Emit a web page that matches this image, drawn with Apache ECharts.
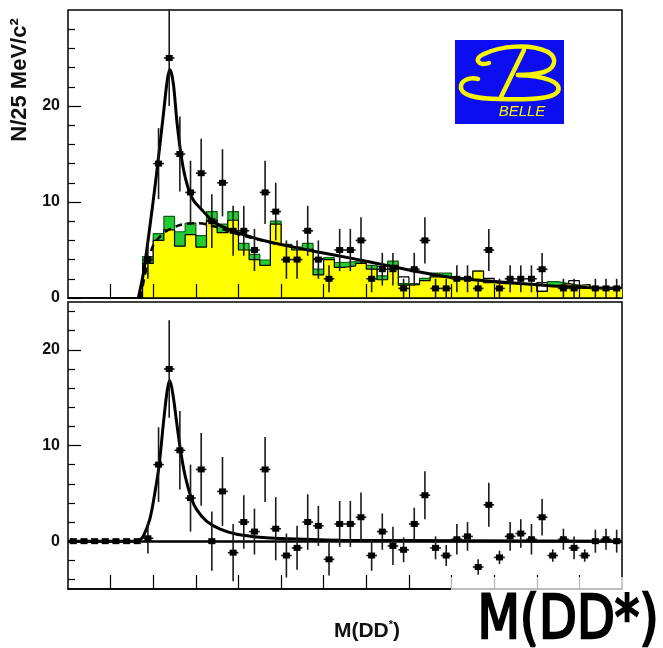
<!DOCTYPE html>
<html>
<head>
<meta charset="utf-8">
<title>M(DD*)</title>
<script src="https://cdn.jsdelivr.net/npm/echarts@6/dist/echarts.min.js"></script>
<style>
html, body { margin: 0; padding: 0; background: #fff; }
#main { width: 663px; height: 648px; }
</style>
</head>
<body>
<div id="main"></div>
<script>
// M(DD*) bin centres in GeV (25 MeV bins, 3.7 - 5.0)
var binCenters = [3.7125, 3.7375, 3.7625, 3.7875, 3.8125, 3.8375, 3.8625, 3.8875, 3.9125, 3.9375,
    3.9625, 3.9875, 4.0125, 4.0375, 4.0625, 4.0875, 4.1125, 4.1375, 4.1625, 4.1875,
    4.2125, 4.2375, 4.2625, 4.2875, 4.3125, 4.3375, 4.3625, 4.3875, 4.4125, 4.4375,
    4.4625, 4.4875, 4.5125, 4.5375, 4.5625, 4.5875, 4.6125, 4.6375, 4.6625, 4.6875,
    4.7125, 4.7375, 4.7625, 4.7875, 4.8125, 4.8375, 4.8625, 4.8875, 4.9125, 4.9375,
    4.9625, 4.9875];
var halfBin = 0.0125;
var massTicks = [3.8, 3.9, 4.0, 4.1, 4.2, 4.3, 4.4, 4.5, 4.6, 4.7, 4.8, 4.9];
var countLabels = [0, 10, 20];
var topMinorTicks = [2, 4, 6, 8, 12, 14, 16, 18, 22, 24, 26, 28];
var bottomMinorTicks = [-4, -2, 2, 4, 6, 8, 12, 14, 16, 18, 22, 24];

// upper plot: data points
var topCounts = [null, null, null, null, null, null, null,
    4, 14, 25, 15, 11, 13, 8, 12, 7, 7, 5, 11, 9, 4, 4, 7, 4, 2, 5, 5, 6, 2, 3, 3,
    1, 3, 6, 1, 1, 2, 2, 1, 5, 1, 2, 2, 2, 3, null, 1, 1, null, 1, 1, 1];
var topErrors = [null, null, null, null, null, null, null,
    2.0, 3.7, 5.0, 3.9, 3.3, 3.6, 2.8, 3.5, 2.6, 2.6, 2.2, 3.3, 3.0, 2.0, 2.0, 2.6, 2.0, 1.4, 2.2, 2.2, 2.4, 1.4, 1.7, 1.7,
    1.0, 1.7, 2.4, 1.0, 1.0, 1.4, 1.4, 1.0, 2.2, 1.0, 1.4, 1.4, 1.4, 1.7, null, 1.0, 1.0, null, 1.0, 1.0, 1.0];

// upper plot: histograms
var yellowHist = [0, 0, 0, 0, 0, 0, 0,
    3.6, 6.0, 7.1, 5.4, 6.6, 5.3, 8.1, 6.8, 8.1, 5.0, 4.0, 3.4, 7.7, 5.5, 5.0, 5.1, 2.4, 4.0, 3.2, 3.35, 3.6, 3.0, 1.9, 3.4,
    1.35, 1.4, 1.8, 2.2, 2.2, 2.05, 2.05, 2.8, 1.6, 1.5, 1.5, 1.5, 1.5, 0.7, 1.3, 1.5, 1.3, 1.4, 1.0, 1.1, 1.1];
var greenHist = [0, 0, 0, 0, 0, 0, 0,
    4.3, 6.7, 8.5, 6.9, 7.8, 6.5, 9.0, 7.7, 9.0, 5.7, 4.55, 3.96, 8.0, 5.6, 5.3, 5.7, 3.0, 4.2, 3.7, 3.8, 3.7, 3.4, 2.3, 3.85,
    1.5, 1.5, 2.05, 2.6, 2.6, 2.1, 2.1, 2.8, 1.6, 1.5, 1.5, 1.5, 1.5, 0.7, 1.7, 1.5, 1.3, 1.4, 1.0, 1.1, 1.1];
var outlineHist = [0, 0, 0, 0, 0, 0, 0,
    0, 0, 0, 0, 0, 0, 0, 0, 0, 0, 0, 0, 0, 0, 0, 0, 4.1, 0, 0, 0, 0, 0, 3.3, 0,
    2.2, 0, 0, 0, 0, 0, 0, 0, 2.05, 0, 0, 0, 0, 1.6, 0, 0, 1.8, 0, 0, 0, 0];

// upper plot: fit curves [mass, N]
var fitTotal = [[3.865, 0], [3.877, 2.6], [3.892, 7.4], [3.908, 13.0], [3.924, 19.2], [3.933, 22.7],
    [3.939, 23.8], [3.947, 22.4], [3.956, 18.2], [3.967, 14.4], [3.979, 11.9], [3.994, 10.2],
    [4.014, 9.2], [4.041, 7.95], [4.080, 7.1], [4.119, 6.5], [4.158, 6.0], [4.197, 5.6],
    [4.28, 4.85], [4.369, 4.1], [4.448, 3.4], [4.526, 2.7], [4.603, 2.1], [4.683, 1.8],
    [4.761, 1.5], [4.838, 1.25], [4.917, 1.1], [4.995, 0.97]];
var fitBackground = [[3.870, 0], [3.885, 3.3], [3.900, 5.5], [3.916, 6.4], [3.932, 7.0], [3.963, 7.6],
    [4.002, 7.8], [4.033, 7.6], [4.080, 6.9], [4.119, 6.4], [4.158, 5.95], [4.197, 5.55]];

// lower plot: background subtracted
var subCounts = [0, 0, 0, 0, 0, 0, 0,
    0.3, 8.0, 18.0, 9.5, 4.5, 7.5, 0.0, 5.2, -1.2, 2.0, 1.0, 7.5, 1.3, -1.5, -0.7, 2.0, 1.6, -1.9, 1.8, 1.8, 2.5, -1.5, 1.0, -0.5,
    -0.9, 1.8, 4.8, -0.7, -1.5, 0.2, 0.5, -2.7, 3.8, -1.7, 0.5, 0.8, 0.2, 2.5, -1.5, 0.2, -0.7, -1.5, 0.0, 0.2, 0.0];
var subErrors = [0, 0, 0, 0, 0, 0, 0,
    1.6, 3.9, 5.1, 4.1, 3.5, 3.8, 3.1, 3.6, 3.0, 2.8, 2.4, 3.4, 3.3, 2.3, 2.3, 2.9, 2.1, 1.7, 2.4, 2.4, 2.6, 1.6, 1.9, 2.0,
    1.3, 1.7, 2.5, 1.2, 1.1, 1.6, 1.5, 0.8, 2.3, 0.7, 1.5, 1.5, 1.6, 1.9, 0.65, 1.1, 1.2, 0.65, 1.2, 1.1, 1.2];
var fitSignal = [[3.70, 0], [3.86, 0], [3.868, 0.1], [3.877, 0.55], [3.892, 2.3], [3.904, 5.1], [3.914, 8.0],
    [3.924, 12.4], [3.933, 15.8], [3.939, 16.8], [3.947, 15.1], [3.955, 12.4], [3.964, 9.5],
    [3.975, 6.8], [3.989, 4.55], [4.002, 3.3], [4.025, 2.1], [4.057, 1.25], [4.096, 0.73],
    [4.158, 0.38], [4.197, 0.28], [4.338, 0.1], [5.0, 0.0]];

var font = '"Liberation Sans", Arial, sans-serif';

function stepData(vals) {
    var d = binCenters.map(function (c, i) { return [c - halfBin, vals[i]]; });
    d.push([binCenters[binCenters.length - 1] + halfBin, vals[vals.length - 1]]);
    return d;
}

function pointData(vals, errs) {
    var d = [];
    binCenters.forEach(function (c, i) {
        if (vals[i] !== null) d.push([c, vals[i], errs[i] || 0]);
    });
    return d;
}

function errorBars(ymin, ymax) {
    return function (params, api) {
        var x = api.value(0), v = api.value(1), e = api.value(2);
        var p = api.coord([x, v]);
        var lo = api.coord([x, Math.max(v - e, ymin)]);
        var hi = api.coord([x, Math.min(v + e, ymax)]);
        var l = api.coord([x - halfBin, v]);
        var r = api.coord([x + halfBin, v]);
        var kids = [];
        if (e > 0) {
            kids.push({type: 'line', shape: {x1: p[0], y1: lo[1], x2: p[0], y2: hi[1]},
                style: {stroke: '#1a1a1a', lineWidth: 1.6}});
        }
        kids.push({type: 'line', shape: {x1: l[0], y1: p[1], x2: r[0], y2: p[1]},
            style: {stroke: '#1a1a1a', lineWidth: 1.6}});
        kids.push({type: 'rect', shape: {x: p[0] - 3.5, y: p[1] - 3, width: 7, height: 6},
            style: {fill: '#000'}});
        return {type: 'group', children: kids};
    };
}

function massAxis(grid) {
    return {
        type: 'value', gridIndex: grid, min: 3.7, max: 5.0, z: 10,
        axisLine: {show: true, onZero: false, lineStyle: {color: '#000', width: 1.5}},
        axisTick: {show: true, inside: true, length: 14, customValues: massTicks,
            lineStyle: {color: '#000', width: 1.2}},
        axisLabel: {show: false},
        splitLine: {show: false}
    };
}

function countAxis(grid, min, max, ticks, withLabels, len) {
    return {
        type: 'value', gridIndex: grid, min: min, max: max, position: 'left', offset: 0, z: 10,
        axisLine: {show: false, onZero: false},
        axisTick: {show: true, inside: true, length: len, customValues: ticks,
            lineStyle: {color: '#000', width: 1.2}},
        axisLabel: withLabels
            ? {show: true, customValues: ticks, color: '#111', fontSize: 16, fontWeight: 'bold',
               fontFamily: font, margin: 8}
            : {show: false},
        splitLine: {show: false}
    };
}

// Belle logo strokes (cubic pieces: start, control 1, control 2, end)
var logoCurves = [
    [489, 63, 478, 67, 473, 58, 484, 54],
    [484, 54, 500, 46, 530, 43, 548, 52],
    [548, 52, 558, 58, 556, 70, 540, 73],
    [540, 73, 532, 75, 524, 75, 518, 75],
    [518, 75, 545, 76, 562, 82, 558, 91],
    [558, 91, 554, 99, 530, 100, 500, 99],
    [500, 99, 480, 99, 462, 96, 461, 88],
    [461, 88, 460, 80, 470, 77, 478, 79]
];
var logoStyle = {stroke: '#f5f500', lineWidth: 4.5, fill: null, lineCap: 'round'};
var logoGraphics = logoCurves.map(function (c) {
    return {type: 'bezierCurve', z: 5,
        shape: {x1: c[0], y1: c[1], cpx1: c[2], cpy1: c[3], cpx2: c[4], cpy2: c[5], x2: c[6], y2: c[7]},
        style: logoStyle};
});
logoGraphics.push({type: 'line', z: 5, shape: {x1: 524, y1: 50, x2: 501, y2: 97}, style: logoStyle});

var myChart = echarts.init(document.getElementById('main'));
myChart.setOption({
    animation: false,
    backgroundColor: '#fff',
    grid: [
        {left: 68, top: 10, width: 554, height: 288, show: true, borderColor: '#000', borderWidth: 1.5},
        {left: 68, top: 302, width: 554, height: 287, show: true, borderColor: '#000', borderWidth: 1.5}
    ],
    xAxis: [massAxis(0), massAxis(1)],
    yAxis: [
        countAxis(0, 0, 30, countLabels, true, 13),
        countAxis(0, 0, 30, topMinorTicks, false, 7),
        countAxis(1, -5, 25, countLabels, true, 13),
        countAxis(1, -5, 25, bottomMinorTicks, false, 7)
    ],
    series: [
        {
            type: 'line', xAxisIndex: 0, yAxisIndex: 0, step: 'end', showSymbol: false, z: 1,
            data: stepData(outlineHist),
            lineStyle: {color: '#000', width: 1.2}
        },
        {
            type: 'line', xAxisIndex: 0, yAxisIndex: 0, step: 'end', showSymbol: false, z: 2,
            data: stepData(greenHist),
            lineStyle: {color: '#0f5a16', width: 1.2},
            areaStyle: {color: '#22cc33', opacity: 1}
        },
        {
            type: 'line', xAxisIndex: 0, yAxisIndex: 0, step: 'end', showSymbol: false, z: 3,
            data: stepData(yellowHist),
            lineStyle: {color: '#000', width: 1.2},
            areaStyle: {color: '#ffff00', opacity: 1}
        },
        {
            type: 'line', xAxisIndex: 0, yAxisIndex: 0, smooth: 0.3, showSymbol: false, z: 4,
            data: fitBackground,
            lineStyle: {color: '#000', width: 2.5, type: [7, 5]}
        },
        {
            type: 'line', xAxisIndex: 0, yAxisIndex: 0, smooth: 0.3, showSymbol: false, z: 5,
            data: fitTotal,
            lineStyle: {color: '#000', width: 3}
        },
        {
            type: 'custom', xAxisIndex: 0, yAxisIndex: 0, z: 6,
            renderItem: errorBars(0, 30),
            encode: {x: 0, y: 1},
            data: pointData(topCounts, topErrors)
        },
        {
            type: 'line', xAxisIndex: 1, yAxisIndex: 2, smooth: 0.3, showSymbol: false, z: 5,
            data: fitSignal,
            lineStyle: {color: '#000', width: 3},
            markLine: {
                silent: true, symbol: 'none', label: {show: false},
                lineStyle: {color: '#000', width: 2.5, type: 'solid'},
                data: [{yAxis: 0}]
            }
        },
        {
            type: 'custom', xAxisIndex: 1, yAxisIndex: 2, z: 6,
            renderItem: errorBars(-5, 25),
            encode: {x: 0, y: 1},
            data: pointData(subCounts, subErrors)
        }
    ],
    graphic: [
        {
            type: 'text', x: 20, y: 80, rotation: Math.PI / 2,
            style: {text: 'N/25 MeV/c²', fill: '#111', fontSize: 22, fontWeight: 'bold',
                fontFamily: font, align: 'center', verticalAlign: 'middle'}
        },
        {
            type: 'text', x: 367, y: 631,
            style: {
                text: '{a|M(DD}{s|*}{a|)}', align: 'center', verticalAlign: 'middle',
                rich: {
                    a: {fontSize: 21, fontWeight: 'bold', fontFamily: font, fill: '#111', lineHeight: 24},
                    s: {fontSize: 11, fontWeight: 'bold', fontFamily: font, fill: '#111', verticalAlign: 'top', lineHeight: 24}
                }
            }
        },
        // Belle logo
        {type: 'rect', z: 4, shape: {x: 455, y: 40, width: 109, height: 84}, style: {fill: '#0d0df2'}}
    ].concat(logoGraphics).concat([
        {
            type: 'text', z: 5, x: 522, y: 112,
            style: {text: 'BELLE', fill: '#f5f500', fontSize: 15, fontStyle: 'italic',
                fontFamily: font, align: 'center', verticalAlign: 'middle'}
        },
        // pasted annotation
        {type: 'rect', z: 100, shape: {x: 451, y: 577, width: 212, height: 71},
            style: {fill: 'rgba(255,255,255,0.72)'}},
        {
            type: 'text', z: 101, x: 568, y: 622, scaleX: 0.82,
            style: {text: 'M(DD*)', fill: '#000', stroke: '#000', lineWidth: 2.5, fontSize: 60,
                fontFamily: '"DejaVu Sans", sans-serif', align: 'center', verticalAlign: 'middle'}
        }
    ])
});
</script>
</body>
</html>
